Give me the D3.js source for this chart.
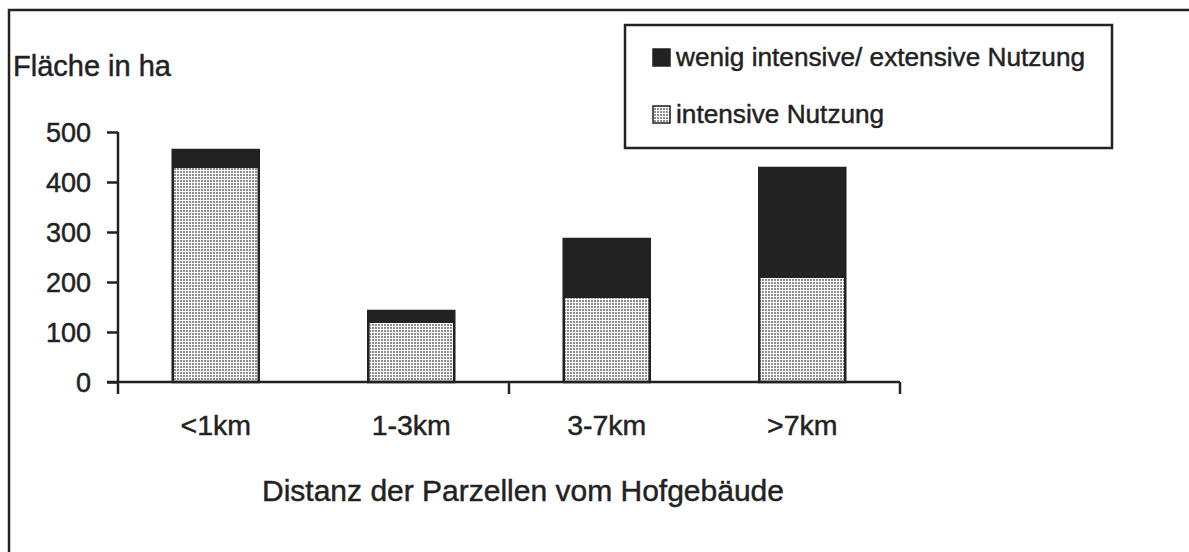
<!DOCTYPE html>
<html><head><meta charset="utf-8">
<script src="https://cdn.jsdelivr.net/npm/d3@7"></script>
<style>body{margin:0;background:#fff}svg{display:block}text{font-family:"Liberation Sans",Arial,sans-serif;fill:#222;stroke:#222;stroke-width:0.45px}</style>
</head><body><svg id="c" width="1189" height="552"></svg>
<script>
const categories = ["<1km", "1-3km", "3-7km", ">7km"];
const intensive = [428, 118, 168, 208];
const extensive = [36, 24, 118, 220];
const yTicks = [0, 100, 200, 300, 400, 500];
const seriesNames = ["wenig intensive/ extensive Nutzung", "intensive Nutzung"];

const svg = d3.select("#c");
const defs = svg.append("defs");
const pat = defs.append("pattern").attr("id","dots").attr("patternUnits","userSpaceOnUse")
  .attr("width",3).attr("height",3);
pat.append("rect").attr("width",3).attr("height",3).attr("fill","#fff");
pat.append("rect").attr("width",2).attr("height",2).attr("fill","#8e8e8e");

// outer frame
svg.append("path").attr("d","M9,552 V10 H1189").attr("fill","none").attr("stroke","#222").attr("stroke-width",2.5);

const x = d3.scaleBand().domain(categories).range([118, 900]).paddingInner(0.56).paddingOuter(0.28);
const y = d3.scaleLinear().domain([0, 500]).range([382, 132]);

const data = categories.map((c,i)=>({cat:c, intensive:intensive[i], extensive:extensive[i]}));
const stack = d3.stack().keys(["intensive","extensive"])(data);
const fills = {intensive:"url(#dots)", extensive:"#222"};

const g = svg.append("g");
stack.forEach(s=>{
  g.selectAll(null).data(s).join("rect")
    .attr("x", d=>x(d.data.cat)).attr("width", x.bandwidth())
    .attr("y", d=>y(d[1])).attr("height", d=>y(d[0])-y(d[1]))
    .attr("fill", fills[s.key]);
});
g.selectAll(null).data(data).join("rect")
  .attr("x", d=>x(d.cat)).attr("width", x.bandwidth())
  .attr("y", d=>y(d.intensive+d.extensive)).attr("height", d=>y(0)-y(d.intensive+d.extensive))
  .attr("fill","none").attr("stroke","#222").attr("stroke-width",2.5);

// y axis
const yAxis = d3.axisLeft(y).tickValues(yTicks).tickSize(11).tickPadding(16).tickFormat(d3.format("d"));
const ya = svg.append("g").attr("transform","translate(118,0)").call(yAxis);
ya.select(".domain").attr("stroke","#222").attr("stroke-width",2.5).attr("d","M0,132V382");
ya.selectAll(".tick line").attr("stroke","#222").attr("stroke-width",2.5);
ya.selectAll(".tick text").attr("font-size",27).attr("dy","0.36em").style("fill","#222");

// x axis line with boundary ticks
const xa = svg.append("g");
const xl = d3.scaleLinear().domain([0, 4]).range([118, 900]);
xa.append("line").attr("x1",107).attr("x2",xl(4)).attr("y1",382).attr("y2",382).attr("stroke","#222").attr("stroke-width",2.5);
xa.selectAll(null).data([0,2,4]).join("line")
  .attr("x1",d=>xl(d)).attr("x2",d=>xl(d)).attr("y1",382).attr("y2",394)
  .attr("stroke","#222").attr("stroke-width",2.5);
xa.selectAll(null).data(categories).join("text")
  .attr("x", d=>x(d)+x.bandwidth()/2).attr("y",435).attr("text-anchor","middle")
  .attr("font-size",28.5).text(d=>d);

svg.append("text").attr("x",523).attr("y",501).attr("text-anchor","middle").attr("font-size",30)
  .text("Distanz der Parzellen vom Hofgebäude");
svg.append("text").attr("x",13).attr("y",76).attr("font-size",29).text("Fläche in ha");

// legend
const lg = svg.append("g");
lg.append("rect").attr("x",625).attr("y",25).attr("width",487).attr("height",123)
  .attr("fill","#fff").attr("stroke","#222").attr("stroke-width",2.5);
const lfill = ["#222","url(#dots)"];
seriesNames.forEach((n,i)=>{
  const yy = 49 + i*57;
  lg.append("rect").attr("x",653).attr("y",yy).attr("width",17).attr("height",17)
    .attr("fill",lfill[i]).attr("stroke","#222").attr("stroke-width",1.5);
  lg.append("text").attr("x",676).attr("y",yy+17).attr("font-size",26.2).text(n);
});
</script></body></html>
